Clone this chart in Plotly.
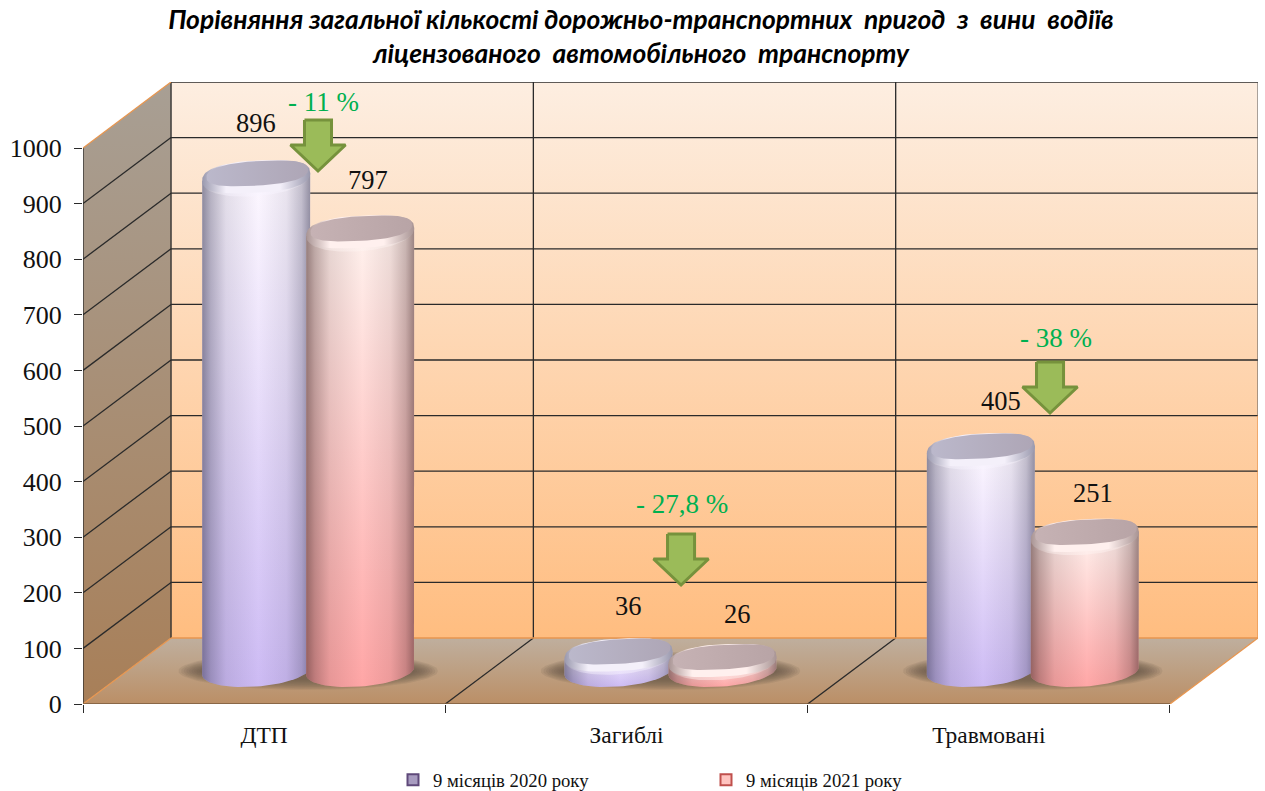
import numpy as np
import plotly.graph_objects as go

# ---------- data ----------
CATEGORIES = ["ДТП", "Загиблі", "Травмовані"]
SERIES_NAMES = ["9 місяців 2020 року", "9 місяців 2021 року"]
VALUES_2020 = [896, 36, 405]
VALUES_2021 = [797, 26, 251]
CHANGE_LABELS = ["- 11 %", "- 27,8 %", "- 38 %"]
Y_TICKS = [0, 100, 200, 300, 400, 500, 600, 700, 800, 900, 1000]

# ---------- oblique projection of the 3-D box, in axis units ----------
DEPTH_X = 0.243     # category units per full depth
DEPTH_Y = 118.7     # value units per full depth
N_CAT = len(CATEGORIES)
VMAX = Y_TICKS[-1]
SERIF = "Liberation Serif"
TEXT = "#111111"
DARK = "#2a2a2a"
ORANGE = "#e8964f"


def P(cat, val, d=0.0):
    return cat + DEPTH_X * d, val + DEPTH_Y * d


def poly(pts, **kw):
    xs, ys = zip(*pts)
    return go.Scatter(x=list(xs), y=list(ys), mode="lines", fill="toself",
                      line=dict(width=0), hoverinfo="skip", showlegend=False,
                      cliponaxis=False, **kw)


def lines(segs, color=DARK, width=1.3):
    xs, ys = [], []
    for a, b in segs:
        xs += [a[0], b[0], None]
        ys += [a[1], b[1], None]
    return go.Scatter(x=xs, y=ys, mode="lines", line=dict(color=color, width=width),
                      hoverinfo="skip", showlegend=False, cliponaxis=False)


def ellipse(cx, cy, a, b, tilt, power=1.0):
    t = np.linspace(0, 2 * np.pi, 97)
    c = np.cos(t)
    s = np.sin(t)
    sx = np.sign(c) * np.abs(c) ** power
    sy = np.sign(s) * np.abs(s) ** power
    return [(cx + a * u, cy + b * v + tilt * w) for u, v, w in zip(sx, sy, c)]


def vgrad(bottom, top):
    return dict(type="vertical", colorscale=[[0, bottom], [1, top]])


def hgrad(stops):
    return dict(type="horizontal", colorscale=stops)


fig = go.Figure()

# walls and floor
fig.add_trace(poly([P(0, 0, 1), P(N_CAT, 0, 1), P(N_CAT, VMAX, 1), P(0, VMAX, 1)],
                   fillgradient=vgrad("#ffbd80", "#fdeee1")))
fig.add_trace(poly([P(0, 0, 0), P(0, VMAX, 0), P(0, VMAX, 1), P(0, 0, 1)],
                   fillgradient=vgrad("#a87f58", "#a89f94")))
fig.add_trace(poly([P(0, 0, 0), P(N_CAT, 0, 0), P(N_CAT, 0, 1), P(0, 0, 1)],
                   fillgradient=vgrad("#bb8f66", "#bfaf9e")))

# grid on the walls and floor
fig.add_trace(lines([(P(0, v, 1), P(N_CAT, v, 1)) for v in Y_TICKS[1:]]))
fig.add_trace(lines([(P(0, v, 0), P(0, v, 1)) for v in Y_TICKS[1:-1]]))
fig.add_trace(lines([(P(i, 0, 1), P(i, VMAX, 1)) for i in range(N_CAT)]))
fig.add_trace(lines([(P(i, 0, 0), P(i, 0, 1)) for i in range(1, N_CAT)]))
fig.add_trace(lines([(P(0, 0), P(0, VMAX))]))
fig.add_trace(lines([(P(N_CAT, 400, 1), P(N_CAT, VMAX, 1))], color="#555555", width=1))
fig.add_trace(lines([(P(0, 0, 1), P(N_CAT, 0, 1)), (P(N_CAT, 0, 0), P(N_CAT, 0, 1)),
                     (P(0, 0, 0), P(0, 0, 1)), (P(0, VMAX, 0), P(0, VMAX, 1)),
                     (P(N_CAT, 0, 1), P(N_CAT, 400, 1))], color=ORANGE, width=1.3))
fig.add_trace(lines([(P(0, 0, 0), P(N_CAT, 0, 0))], color="#7a5a3c", width=1.6))

# cylinders
HALF_W = 0.149        # bar half-width, category units
GAP = 0.1435          # bar centre offset from the group centre
BASE_B = 28           # ellipse half-height, value units
TILT = 7              # ellipse tilt, value units
TOP_INSET = 7
ROUND = 0.8           # rounder shoulders on the bevelled top

STYLES = [
    dict(top="#fdf8ff", bottom="#cdbbf4", shade="62,60,88", glow="rgba(248,244,255,0.45)",
         rim_edge="#9a99ae", rim_mid="#f4f0fa", cap_l="#bbb8cb", cap_r="#aea6b6"),
    dict(top="#fff2ee", bottom="#ffa6a6", shade="74,44,44", glow="rgba(255,244,242,0.45)",
         rim_edge="#a89494", rim_mid="#fff0ee", cap_l="#c6b2b4", cap_r="#b8a4a6"),
]


def shade(st):
    c = st["shade"]
    stops = [(0, .58), (.08, .36), (.22, .13), (.52, 0), (.78, .1), (.92, .3), (1, .55)]
    return hgrad([[p, f"rgba({c},{a})"] for p, a in stops])


def cylinder(cx, value, st):
    c0 = P(cx, 0, 0.5)
    half = np.linspace(0, np.pi, 37)
    top_y = value + c0[1] - TOP_INSET
    xa = c0[0]
    bottom = [(xa + HALF_W * np.cos(t), c0[1] - BASE_B * np.sin(t) + TILT * np.cos(t)) for t in half]
    body = [(xa + HALF_W, top_y + TILT)] + bottom + [(xa - HALF_W, top_y - TILT)]
    fig.add_trace(poly(body, fillgradient=vgrad(st["bottom"], st["top"])))
    fig.add_trace(poly(body, fillgradient=shade(st)))
    fig.add_trace(poly(ellipse(xa, top_y - 5, HALF_W * 0.985, BASE_B + 2, TILT),
                       fillgradient=hgrad([[0, "rgba(255,255,255,0)"], [0.2, st["glow"]],
                                           [0.75, st["glow"]], [1, "rgba(255,255,255,0)"]])))
    fig.add_trace(poly(ellipse(xa, top_y, HALF_W, BASE_B + 1, TILT, ROUND),
                       fillgradient=hgrad([[0, st["rim_edge"]], [0.22, st["rim_mid"]],
                                           [0.72, st["rim_mid"]], [1, st["rim_edge"]]])))
    fig.add_trace(poly(ellipse(xa + 0.003, top_y + 6, HALF_W * 0.94, BASE_B - 6, TILT, ROUND),
                       fillgradient=hgrad([[0, st["cap_l"]], [1, st["cap_r"]]])))


for i in range(N_CAT):
    gc = i + 0.5
    # soft shadow under each pair of bars
    sc = P(gc, 0, 0.5)
    for k in range(10):
        fig.add_trace(poly(ellipse(sc[0], sc[1], 0.358 * (1 - k * 0.02), 34 * (1 - k * 0.06), 0),
                           fillcolor="rgba(104,86,72,0.13)"))
    cylinder(gc - GAP, VALUES_2020[i], STYLES[0])
    cylinder(gc + GAP, VALUES_2021[i], STYLES[1])

# change arrows
ARROW_X = [0.6486, 1.6506, 2.669]
ARROW_TIP = [958.6, 214, 523.4]
for ax, tip in zip(ARROW_X, ARROW_TIP):
    xs = [ax - 0.0373, ax + 0.0373, ax + 0.0373, ax + 0.0759, ax, ax - 0.0759, ax - 0.0373, ax - 0.0373]
    ys = [tip + 91.7, tip + 91.7, tip + 46.8, tip + 46.8, tip, tip + 46.8, tip + 46.8, tip + 91.7]
    fig.add_trace(go.Scatter(x=xs, y=ys, mode="lines", fill="toself", fillcolor="#9bbb59",
                             line=dict(color="#76923c", width=3), hoverinfo="skip",
                             showlegend=False, cliponaxis=False))

# legend entries
LEGEND_FILL = ["#a89cc0", "#ffc4c0"]
LEGEND_EDGE = ["#5f497a", "#c0504d"]
for name, fc, ec in zip(SERIES_NAMES, LEGEND_FILL, LEGEND_EDGE):
    fig.add_trace(go.Scatter(x=[None], y=[None], mode="markers", name=name,
                             marker=dict(symbol="square", size=11, color=fc,
                                         line=dict(color=ec, width=2))))

# text on the chart
LABEL_DX = [(0.0, 0.022), (0.027, 0.041), (0.057, 0.022)]
LABEL_DY = [(97, 93), (88, 83), (88, 77)]
ann = []
for i in range(N_CAT):
    for j, vals in enumerate((VALUES_2020, VALUES_2021)):
        v = vals[i]
        cx = i + 0.5 + (-GAP if j == 0 else GAP) + DEPTH_X * 0.5 + LABEL_DX[i][j]
        ann.append(dict(x=cx, y=v + DEPTH_Y * 0.5 - TOP_INSET + LABEL_DY[i][j], text=str(v),
                        showarrow=False, font=dict(family=SERIF, size=26.5, color=TEXT)))
CHANGE_X = [0.6624, 1.653, 2.686]
CHANGE_Y = [1082.7, 359.7, 658.3]
for t, x, y in zip(CHANGE_LABELS, CHANGE_X, CHANGE_Y):
    ann.append(dict(x=x, y=y, text=t, showarrow=False,
                    font=dict(family=SERIF, size=27, color="#00b050")))

W, H = 1265, 791
fig.update_layout(
    width=W, height=H, margin=dict(l=0, r=0, t=0, b=0, autoexpand=False),
    paper_bgcolor="white", plot_bgcolor="rgba(0,0,0,0)",
    title=dict(text="Порівняння загальної кількості дорожньо-транспортних  пригод  з  вини  водіїв"
                    "<br>ліцензованого  автомобільного  транспорту",
               x=641 / W, xanchor="center", y=1 - 29 / H, yanchor="top",
               font=dict(family="Lato", size=26.4, color="#000000", weight="bold", style="italic")),
    xaxis=dict(domain=[83 / W, 1258 / W], range=[0, N_CAT + DEPTH_X], showgrid=False, zeroline=False,
               tickmode="array", tickvals=[i + 0.5 for i in range(N_CAT)], ticktext=CATEGORIES,
               ticks="", ticklabelstandoff=14, tickfont=dict(family=SERIF, size=23.5, color=TEXT),
               minor=dict(tickmode="array", tickvals=list(range(N_CAT + 1)), ticks="outside",
                          ticklen=8, tickcolor=DARK, tickwidth=1.2)),
    yaxis=dict(domain=[87 / H, 709 / H], range=[0, VMAX + DEPTH_Y], showgrid=False, zeroline=False,
               tickmode="array", tickvals=Y_TICKS, ticks="outside", ticklen=8, tickcolor=DARK,
               tickwidth=1.2, ticklabelstandoff=7, tickfont=dict(family=SERIF, size=26, color=TEXT)),
    legend=dict(orientation="h", x=393 / W, xanchor="left", y=1 - 780 / H, yanchor="middle",
                entrywidth=268, entrywidthmode="pixels", bgcolor="rgba(0,0,0,0)",
                font=dict(family=SERIF, size=18.7, color=TEXT), traceorder="normal"),
    annotations=ann, hovermode=False,
)

fig.write_html("out.html", config=dict(displayModeBar=False),
               post_script="document.body.style.margin='0';")
